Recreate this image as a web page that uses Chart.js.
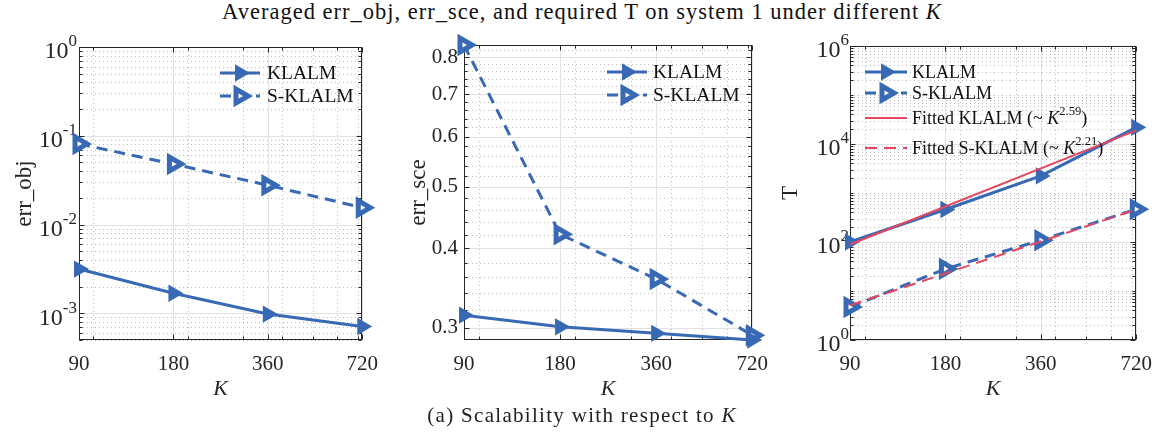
<!DOCTYPE html>
<html><head><meta charset="utf-8">
<script src="https://cdn.jsdelivr.net/npm/chart.js@4.4.1/dist/chart.umd.min.js"></script>
<style>
html,body{margin:0;padding:0;background:#fff;}
body{width:1164px;height:433px;position:relative;overflow:hidden;font-family:"Liberation Serif",serif;color:#262626;}
#title{position:absolute;left:0;top:0;width:1164px;text-align:center;font-size:22.5px;line-height:24px;letter-spacing:1px;white-space:nowrap;color:#111;}
#caption{position:absolute;left:0;top:403px;width:1164px;text-align:center;font-size:21px;line-height:24px;letter-spacing:1.3px;white-space:nowrap;color:#222;}
canvas{position:absolute;top:0;}
</style></head>
<body>
<div id="title">Averaged err_obj, err_sce, and required T on system 1 under different <i>K</i></div>
<canvas id="c1" width="390" height="433" style="left:0px"></canvas>
<canvas id="c2" width="390" height="433" style="left:390px"></canvas>
<canvas id="c3" width="384" height="433" style="left:780px"></canvas>
<div id="caption">(a) Scalability with respect to <i>K</i></div>
<script>
// ---------- data ----------
const kValues = [90, 180, 360, 720];
const kTickLabels = ['90', '180', '360', '720'];

const objKLALM  = [3.15e-3, 1.68e-3, 9.8e-4, 7.1e-4];
const objSKLALM = [0.081, 0.048, 0.0277, 0.0155];
const objTickValues = [1e-3, 1e-2, 1e-1, 1];
const objTickExponents = ['-3', '-2', '-1', '0'];   // labels 10^-3 ... 10^0

const sceKLALM  = [0.314, 0.301, 0.294, 0.287];
const sceSKLALM = [0.836, 0.421, 0.358, 0.292];
const sceTickValues = [0.3, 0.4, 0.5, 0.6, 0.7, 0.8];
const sceTickLabels = ['0.3', '0.4', '0.5', '0.6', '0.7', '0.8'];

const tKLALM  = [100, 460, 2230, 21900];
const tSKLALM = [4.7, 28.3, 109, 467];
const kFit = [90, 720];
const tFitKLALM  = [89, 19000];
const tFitSKLALM = [5.1, 460];
const tTickValues = [1, 1e2, 1e4, 1e6];
const tTickExponents = ['0', '2', '4', '6'];        // labels 10^0 ... 10^6

// ---------- styles ----------
const BLUE = '#3869b4';
const RED = '#e6475f';
const AXIS = '#262626';
const FONT = '"Liberation Serif", "Times New Roman", serif';

function logMinors(lo, hi) {
  const out = [];
  for (let e = Math.floor(Math.log10(lo)); e <= Math.ceil(Math.log10(hi)); e++) {
    for (let m = 1; m <= 9; m++) {
      const v = m * Math.pow(10, e);
      if (v >= lo * 0.999 && v <= hi * 1.001) out.push(v);
    }
  }
  return out;
}
const kMinor = [100, 200, 300, 400, 500, 600, 700];
const sceMinor = [0.32,0.34,0.36,0.38,0.42,0.44,0.46,0.48,0.52,0.54,0.56,0.58,0.62,0.64,0.66,0.68,0.72,0.74,0.76,0.78,0.82];

function pts(xs, ys) { return xs.map((x, i) => ({x: x, y: ys[i]})); }

const styleK = {borderColor: BLUE, backgroundColor: BLUE, borderWidth: 3, pointStyle: 'triangle', rotation: 90,
  pointRadius: 8, pointBackgroundColor: BLUE, pointBorderColor: BLUE, pointBorderWidth: 2, clip: false, order: 2};
const styleS = {borderColor: BLUE, backgroundColor: BLUE, borderWidth: 3, borderDash: [11, 7], pointStyle: 'triangle', rotation: 90,
  pointRadius: 8, pointBackgroundColor: '#ffffff', pointBorderColor: BLUE, pointBorderWidth: 5, clip: false, order: 2};
const styleFK = {borderColor: RED, backgroundColor: RED, borderWidth: 2, pointRadius: 0, clip: false, order: 0};
const styleFS = {borderColor: RED, backgroundColor: RED, borderWidth: 2, borderDash: [12, 7], pointRadius: 0, clip: false, order: 0};

// ---------- plugins ----------
function gridBox(cfg) {
  return {
    id: 'gridBox',
    beforeDatasetsDraw(chart) {
      const ctx = chart.ctx, a = chart.chartArea, x = chart.scales.x, y = chart.scales.y;
      ctx.save();
      ctx.lineWidth = 1;
      ctx.strokeStyle = '#bdbdbd';
      ctx.setLineDash([1, 3]);
      cfg.xMinor.forEach(v => { const p = Math.round(x.getPixelForValue(v)) + 0.5;
        ctx.beginPath(); ctx.moveTo(p, a.top); ctx.lineTo(p, a.bottom); ctx.stroke(); });
      cfg.yMinor.forEach(v => { const p = Math.round(y.getPixelForValue(v)) + 0.5;
        ctx.beginPath(); ctx.moveTo(a.left, p); ctx.lineTo(a.right, p); ctx.stroke(); });
      ctx.setLineDash([]);
      ctx.strokeStyle = '#e2e2e2';
      cfg.xMajor.forEach(v => { const p = Math.round(x.getPixelForValue(v)) + 0.5;
        ctx.beginPath(); ctx.moveTo(p, a.top); ctx.lineTo(p, a.bottom); ctx.stroke(); });
      cfg.yMajor.forEach(v => { const p = Math.round(y.getPixelForValue(v)) + 0.5;
        ctx.beginPath(); ctx.moveTo(a.left, p); ctx.lineTo(a.right, p); ctx.stroke(); });
      ctx.strokeStyle = AXIS;
      const L = Math.round(a.left) + 0.5, R = Math.round(a.right) - 0.5, T = Math.round(a.top) + 0.5, B = Math.round(a.bottom) - 0.5;
      ctx.strokeRect(L, T, R - L, B - T);
      const tick = (vals, len, isX) => vals.forEach(v => {
        if (isX) { const p = Math.round(x.getPixelForValue(v)) + 0.5;
          ctx.beginPath(); ctx.moveTo(p, B); ctx.lineTo(p, B - len); ctx.moveTo(p, T); ctx.lineTo(p, T + len); ctx.stroke(); }
        else { const p = Math.round(y.getPixelForValue(v)) + 0.5;
          ctx.beginPath(); ctx.moveTo(L, p); ctx.lineTo(L + len, p); ctx.moveTo(R, p); ctx.lineTo(R - len, p); ctx.stroke(); }
      });
      tick(cfg.xMinor, 3, true); tick(cfg.xMajor, 5, true);
      tick(cfg.yMinor, 3, false); tick(cfg.yMajor, 5, false);
      // power-of-ten tick labels (10 with superscript exponent)
      if (cfg.expLabels) {
        ctx.fillStyle = AXIS; ctx.textBaseline = 'middle'; ctx.textAlign = 'left';
        cfg.yMajor.forEach((v, i) => {
          const py = y.getPixelForValue(v);
          const exp = cfg.expLabels[i];
          ctx.font = '17px ' + FONT; const w2 = ctx.measureText(exp).width;
          ctx.font = '24px ' + FONT; const w1 = ctx.measureText('10').width;
          const xr = a.left - cfg.expGap;
          ctx.fillText('10', xr - w2 - w1, py + 5);
          ctx.font = '17px ' + FONT;
          ctx.fillText(exp, xr - w2, py - 5);
        });
      }
      ctx.restore();
    }
  };
}

function drawParts(ctx, parts, x, y, size) {
  parts.forEach(p => {
    const s = p.sup ? size * 0.7 : size;
    ctx.font = (p.italic ? 'italic ' : '') + s + 'px ' + FONT;
    ctx.fillText(p.t, x, y + (p.sup ? -size * 0.42 : 0));
    x += ctx.measureText(p.t).width;
  });
}

function legendPlugin(entries, size) {
  return {
    id: 'customLegend',
    afterDatasetsDraw(chart) {
      const ctx = chart.ctx;
      ctx.save();
      entries.forEach(e => {
        const st = e.style;
        ctx.strokeStyle = st.borderColor;
        ctx.lineWidth = st.borderWidth;
        ctx.setLineDash(st.borderDash || []);
        ctx.beginPath(); ctx.moveTo(e.x1, e.y); ctx.lineTo(e.x2, e.y); ctx.stroke();
        ctx.setLineDash([]);
        if (st.pointRadius > 0) {
          ctx.fillStyle = st.pointBackgroundColor; ctx.strokeStyle = st.pointBorderColor; ctx.lineWidth = st.pointBorderWidth;
          Chart.helpers.drawPoint(ctx, {pointStyle: 'triangle', rotation: 90, radius: st.pointRadius, borderWidth: st.pointBorderWidth}, (e.x1 + e.x2) / 2, e.y);
        }
        ctx.fillStyle = '#111';
        ctx.textBaseline = 'middle'; ctx.textAlign = 'left';
        drawParts(ctx, e.parts, e.tx, e.y + 1, size);
      });
      ctx.restore();
    }
  };
}

function makeChart(id, o) {
  return new Chart(document.getElementById(id), {
    type: 'line',
    data: {datasets: o.datasets},
    options: {
      responsive: false, animation: false, devicePixelRatio: 1,
      layout: {padding: {top: o.top, right: o.right, bottom: 0, left: 0}},
      plugins: {legend: {display: false}, tooltip: {enabled: false}},
      scales: {
        x: {
          type: 'logarithmic', min: 90, max: 720, bounds: 'data',
          afterBuildTicks: s => { s.ticks = kValues.map(v => ({value: v})); },
          afterFit: s => { s.height = 433 - 340; },
          grid: {display: false, drawTicks: false}, border: {display: false},
          ticks: {autoSkip: false, maxRotation: 0, padding: 12, color: AXIS, font: {family: FONT, size: 21},
            callback: (v, i) => kTickLabels[i]},
          title: {display: true, text: 'K', color: AXIS, font: {family: FONT, size: 22, style: 'italic'}, padding: {top: 0, bottom: 31}}
        },
        y: {
          type: 'logarithmic', min: o.ymin, max: o.ymax, bounds: 'data',
          afterBuildTicks: s => { s.ticks = o.yTicks.map(v => ({value: v})); },
          afterFit: s => { s.width = o.yWidth; },
          grid: {display: false, drawTicks: false}, border: {display: false},
          ticks: {display: !o.grid.expLabels, autoSkip: false, padding: o.yPad, color: AXIS, font: {family: FONT, size: 21},
            callback: (v, i) => o.yLabels ? o.yLabels[i] : ''},
          title: {display: true, text: o.yTitle, color: AXIS, font: {family: FONT, size: 23}, padding: {top: o.yTitlePad, bottom: 0}}
        }
      }
    },
    plugins: [gridBox(o.grid), legendPlugin(o.legend, o.legendSize)]
  });
}

Chart.defaults.font.family = FONT;

const dK = Object.assign({label: 'KLALM'}, styleK);
const dS = Object.assign({label: 'S-KLALM'}, styleS);

makeChart('c1', {
  datasets: [
    Object.assign({}, dK, {data: pts(kValues, objKLALM)}),
    Object.assign({}, dS, {data: pts(kValues, objSKLALM)})
  ],
  top: 47, right: 20, yWidth: 79, yPad: 4, yTitlePad: 11,
  ymin: 5e-4, ymax: 1, yTicks: objTickValues, yTitle: 'err_obj',
  grid: {xMajor: kValues, xMinor: kMinor, yMajor: objTickValues, expLabels: objTickExponents, expGap: 2,
    yMinor: logMinors(5e-4, 1).filter(v => !objTickValues.some(t => Math.abs(t - v) / t < 1e-6))},
  legendSize: 19.5,
  legend: [
    {style: styleK, x1: 220, x2: 260, y: 73, tx: 267, parts: [{t: 'KLALM'}]},
    {style: styleS, x1: 220, x2: 260, y: 96, tx: 267, parts: [{t: 'S-KLALM'}]}
  ]
});

makeChart('c2', {
  datasets: [
    Object.assign({}, dK, {data: pts(kValues, sceKLALM)}),
    Object.assign({}, dS, {data: pts(kValues, sceSKLALM)})
  ],
  top: 45, right: 24, yWidth: 74, yPad: 6, yTitlePad: 15,
  ymin: 0.287, ymax: 0.836, yTicks: sceTickValues, yLabels: sceTickLabels, yTitle: 'err_sce',
  grid: {xMajor: kValues, xMinor: kMinor, yMajor: sceTickValues, yMinor: sceMinor},
  legendSize: 19.5,
  legend: [
    {style: styleK, x1: 217, x2: 257, y: 72, tx: 263, parts: [{t: 'KLALM'}]},
    {style: styleS, x1: 217, x2: 257, y: 95, tx: 263, parts: [{t: 'S-KLALM'}]}
  ]
});

makeChart('c3', {
  datasets: [
    Object.assign({label: 'Fitted KLALM'}, styleFK, {data: pts(kFit, tFitKLALM)}),
    Object.assign({label: 'Fitted S-KLALM'}, styleFS, {data: pts(kFit, tFitSKLALM)}),
    Object.assign({}, dK, {data: pts(kValues, tKLALM)}),
    Object.assign({}, dS, {data: pts(kValues, tSKLALM)})
  ],
  top: 46, right: 23, yWidth: 70, yPad: 3, yTitlePad: -3,
  ymin: 1, ymax: 1e6, yTicks: tTickValues, yTitle: 'T',
  grid: {xMajor: kValues, xMinor: kMinor, yMajor: tTickValues, expLabels: tTickExponents, expGap: 1,
    yMinor: logMinors(1, 1e6).filter(v => !tTickValues.some(t => Math.abs(t - v) / t < 1e-6))},
  legendSize: 18,
  legend: [
    {style: styleK, x1: 85, x2: 127, y: 72, tx: 132, parts: [{t: 'KLALM'}]},
    {style: styleS, x1: 85, x2: 127, y: 93, tx: 132, parts: [{t: 'S-KLALM'}]},
    {style: styleFK, x1: 85, x2: 127, y: 118, tx: 132, parts: [{t: 'Fitted KLALM (~ '}, {t: 'K', italic: true}, {t: '2.59', sup: true}, {t: ')'}]},
    {style: styleFS, x1: 85, x2: 127, y: 148, tx: 132, parts: [{t: 'Fitted S-KLALM (~ '}, {t: 'K', italic: true}, {t: '2.21', sup: true}, {t: ')'}]}
  ]
});
</script>
</body></html>
